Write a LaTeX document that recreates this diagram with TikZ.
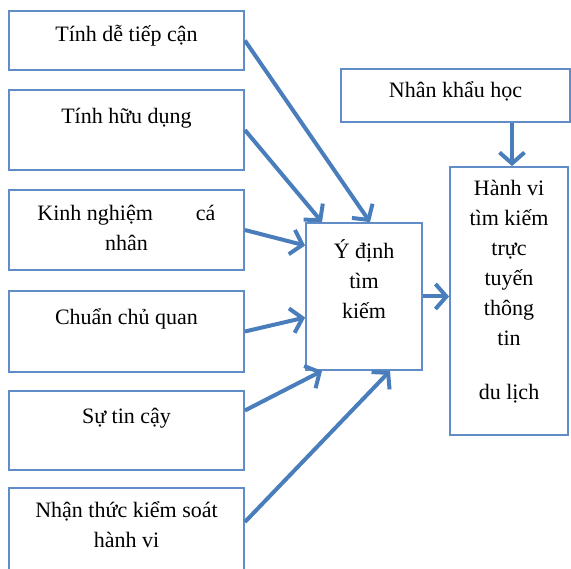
\documentclass[tikz,border=0pt]{standalone}
\usepackage{fontspec}
\setmainfont{Liberation Serif}
\usetikzlibrary{arrows.meta}
\definecolor{boxline}{RGB}{96,140,200}
\definecolor{arrowblue}{RGB}{74,125,187}
\tikzset{
  box/.style={draw=boxline, line width=1.8pt, minimum width=235pt, inner sep=0pt},
  txt/.style={anchor=base, align=center, inner sep=0pt, font=\fontsize{22}{30}\selectfont},
  flow/.style={draw=arrowblue, line width=4pt, -{Straight Barb[length=11pt,width=25pt]}}
}
\begin{document}
\begin{tikzpicture}[x=1pt,y=-1pt]
               \useasboundingbox (0,0) rectangle (571,569);
               \node[box, minimum height=59pt, label={[txt,yshift=-31pt]north:Tính dễ tiếp cận}] (tiepcan) at (126.5,40.5) {};
               \node[box, minimum height=80pt, label={[txt,yshift=-34pt]north:Tính hữu dụng}] (huudung) at (126.5,130) {};
               \node[box, minimum height=80pt, label={[txt,yshift=-61pt]north:Kinh nghiệm\hspace{43pt}cá\\nhân}] (kinhnghiem) at (126.5,230) {};
               \node[box, minimum height=81pt, label={[txt,yshift=-34pt]north:Chuẩn chủ quan}] (chuan) at (126.5,331.5) {};
               \node[box, minimum height=79pt, label={[txt,yshift=-33pt]north:Sự tin cậy}] (tincay) at (126.5,430.5) {};
               \node[box, minimum height=94pt, label={[txt,yshift=-60pt]north:Nhận thức kiểm soát\\hành vi}] (nhanthuc) at (126.5,535) {};
               \node[box, minimum width=116pt, minimum height=147pt, label={[txt,yshift=-96pt]north:Ý định\\tìm\\kiếm}] (ydinh) at (364,296.5) {};
               \node[box, minimum width=118pt, minimum height=268pt, label={[txt,yshift=-233pt]north:Hành vi\\tìm kiếm\\trực\\tuyến\\thông\\tin\\[24pt]du lịch}] (hanhvi) at (509,301) {};
               \node[box, minimum width=229pt, minimum height=53pt, label={[txt,yshift=-29pt]north:Nhân khẩu học}] (nhankhau) at (455.5,95.5) {};
               \draw[flow] (tiepcan.east) -- ([xshift=6pt]ydinh.north);
               \draw[flow] (huudung.east) -- ([xshift=-42pt]ydinh.north);
               \draw[flow] (kinhnghiem.east) -- ([yshift=51pt]ydinh.west);
               \draw[flow] (chuan.east) -- ([yshift=-21pt]ydinh.west);
               \draw[flow] ([yshift=20pt]tincay.east) -- ([xshift=-42pt]ydinh.south);
               \draw[flow] ([yshift=13pt]nhanthuc.east) -- ([xshift=26pt]ydinh.south);
               \draw[flow] (ydinh.east) -- (ydinh.east -| hanhvi.west);
               \draw[flow] ([xshift=3pt]nhankhau.south -| hanhvi.north) -- ([xshift=3pt]hanhvi.north);
            \end{tikzpicture}
\end{document}
